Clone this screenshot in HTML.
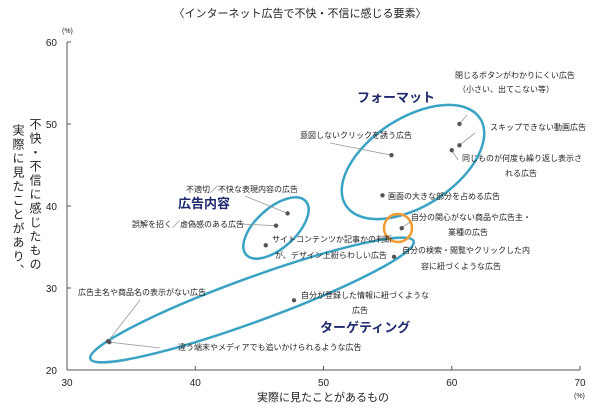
<!DOCTYPE html>
<html><head><meta charset="utf-8">
<style>
body{margin:0;background:#fff;font-family:"Liberation Sans","Noto Sans CJK JP",sans-serif;}
#wrap{position:relative;width:600px;height:410px;overflow:hidden;}
.vt{position:absolute;writing-mode:vertical-rl;font-size:12px;color:#222;letter-spacing:2px;}
</style></head><body>
<div id="wrap">
<div class="vt" style="left:27px;top:118px;">不快・不信に感じたもの</div>
<div class="vt" style="left:10px;top:124px;">実際に見たことがあり、</div>
<svg id="svg" width="600" height="410" style="position:absolute;left:0;top:0"></svg>
</div>
<script>
const labels=["閉じるボタンがわかりにくい広告","スキップできない動画広告","同じものが何度も繰り返し表示される広告","意図しないクリックを誘う広告","画面の大きな部分を占める広告","自分の関心がない商品や広告主・業種の広告","自分の検索・閲覧やクリックした内容に紐づくような広告","不適切／不快な表現内容の広告","誤解を招く／虚偽感のある広告","サイトコンテンツか記事かの判断が、デザイン上紛らわしい広告","自分が登録した情報に紐づくような広告","広告主名や商品名の表示がない広告","違う端末やメディアでも追いかけられるような広告"];
const xVals=[60.6,60.6,60.0,55.3,54.6,56.1,55.5,47.2,46.3,45.5,47.7,33.2,33.3];
const yVals=[50.0,47.4,46.8,46.2,41.3,37.3,33.8,39.1,37.6,35.2,28.5,23.5,23.4];
const xTicks=[30,40,50,60,70];
const yTicks=[20,30,40,50,60];
const X0=67,X1=580,Y0=370,Y1=42;
function sx(v){return X0+(v-30)/(70-30)*(X1-X0);}
function sy(v){return Y0-(v-20)/(60-20)*(Y0-Y1);}
const svg=document.getElementById('svg');
const NS='http://www.w3.org/2000/svg';
function mk(tag,attrs,txt){const e=document.createElementNS(NS,tag);for(const k in attrs)e.setAttribute(k,attrs[k]);if(txt!==undefined)e.textContent=txt;svg.appendChild(e);return e;}
let e;
e=mk('text',{x:300,y:17,'text-anchor':'middle','font-size':11,fill:'#222'},'〈インターネット広告で不快・不信に感じる要素〉');


e=mk('line',{x1:X0,y1:Y1,x2:X0,y2:Y0,stroke:'#555','stroke-width':1});


e=mk('line',{x1:X0,y1:Y0,x2:X1,y2:Y0,stroke:'#555','stroke-width':1});


yTicks.forEach(t=>{
 e=mk('line',{x1:X0,y1:sy(t),x2:X0+4,y2:sy(t),stroke:'#555'});
 
 
 e=mk('text',{x:X0-10,y:sy(t)+4,'text-anchor':'end','font-size':10,fill:'#222'},String(t));
 
 
});
xTicks.forEach(t=>{
 e=mk('line',{x1:sx(t),y1:Y0,x2:sx(t),y2:Y0-4,stroke:'#555'});
 
 
 e=mk('text',{x:sx(t),y:Y0+16,'text-anchor':'middle','font-size':10,fill:'#222'},String(t));
 
 
});
e=mk('text',{x:62,y:33,'font-size':7,fill:'#222'},'(%)');


e=mk('text',{x:574,y:398,'font-size':7,fill:'#222'},'(%)');


e=mk('text',{x:323,y:401,'text-anchor':'middle','font-size':11,fill:'#222'},'実際に見たことがあるもの');


function ell(cx,cy,rx,ry,rot,col,name){
 e=mk('ellipse',{cx:cx,cy:cy,rx:rx,ry:ry,transform:`rotate(${rot} ${cx} ${cy})`,fill:'none',stroke:col,'stroke-width':2.5});
 
 
}
ell(413,162,80,44,-33,'#3aa3c4','format-group-ellipse');
ell(276,228,40,20,-42,'#3aa3c4','content-group-ellipse');
ell(252,300,172,22,-20,'#3aa3c4','targeting-group-ellipse');
ell(398,228,14,14,0,'#f39a30','interest-highlight-circle');
function gl(x,y,t,name){e=mk('text',{x:x,y:y,'font-size':13,'font-weight':'bold',fill:'#1f2a6e'},t);}
gl(357,102,'フォーマット','format-group-label');
gl(178,208,'広告内容','content-group-label');
gl(320,332,'ターゲティング','targeting-group-label');
const lab=[
 [[455,78,'閉じるボタンがわかりにくい広告'],[458,92,'（小さい、出てこない等）']],
 [[490,130,'スキップできない動画広告']],
 [[462,161,'同じものが何度も繰り返し表示さ'],[505,176,'れる広告']],
 [[300,138,'意図しないクリックを誘う広告']],
 [[388,199,'画面の大きな部分を占める広告']],
 [[411,220,'自分の関心がない商品や広告主・'],[448,235,'業種の広告']],
 [[402,253,'自分の検索・閲覧やクリックした内'],[421,269,'容に紐づくような広告']],
 [[186,192,'不適切／不快な表現内容の広告']],
 [[132,227,'誤解を招く／虚偽感のある広告']],
 [[272,242,'サイトコンテンツか記事かの判断'],[275,258,'が、デザイン上紛らわしい広告']],
 [[301,298,'自分が登録した情報に紐づくような'],[352,313,'広告']],
 [[78,295,'広告主名や商品名の表示がない広告']],
 [[178,350,'違う端末やメディアでも追いかけられるような広告']]
];
const leaders=[[467,115],[475,133],[458,160],[330,143],null,[410,222],null,[245,196],[240,224],null,null,[140,300],[160,348]];
for(let i=0;i<xVals.length;i++){
 const px=sx(xVals[i]),py=sy(yVals[i]);
 if(leaders[i]){e=mk('line',{x1:px,y1:py,x2:leaders[i][0],y2:leaders[i][1],stroke:'#999','stroke-width':0.8});
  
  }
 e=mk('circle',{cx:px,cy:py,r:2.2,fill:'#555'});
 
 
 lab[i].forEach(l=>{e=mk('text',{x:l[0],y:l[1],'font-size':8,fill:'#222'},l[2]);
  
  });
}
</script>
</body></html>
